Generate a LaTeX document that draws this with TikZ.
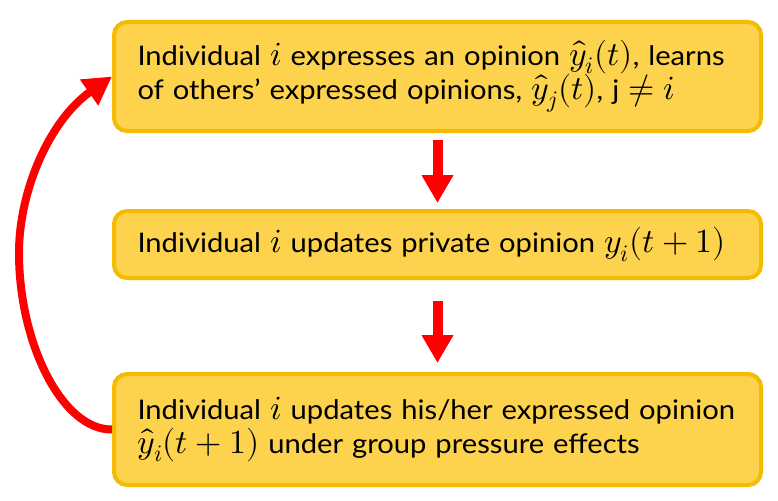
\documentclass[tikz,border=0pt]{standalone}
\usepackage{fontspec}
\usepackage{unicode-math}
\setmainfont{Lato}[FakeStretch=1.08, WordSpace=1.2]
\setmathfont{latinmodern-math.otf}[Scale=1.25]
\usetikzlibrary{arrows.meta}
\definecolor{boxfill}{HTML}{FDD24D}
\definecolor{boxline}{HTML}{F6BB00}
\definecolor{arrred}{HTML}{FF0000}
\tikzset{
  flowbox/.style={draw=boxline, fill=boxfill, line width=4pt, rounded corners=13pt,
    minimum width=647pt, text width=600pt, inner xsep=21pt, align=left,
    font=\fontsize{27}{34}\selectfont},
  downarrow/.style={draw=arrred, line width=10pt, -{Triangle[length=28pt,width=30pt]}},
  looparrow/.style={draw=arrred, line width=8pt, -{Triangle[length=28pt,width=30pt]}}
}
\begin{document}
\begin{tikzpicture}[x=1pt,y=-1pt]
\useasboundingbox (0,0) rectangle (778,500);
\node[flowbox, minimum height=109pt] (b1) at (437.5,76.5)
  {Individual $i$ expresses an opinion $\hat{y}_i(t)$, learns\\
   of others’ expressed opinions, $\hat{y}_j(t)$, j $\neq i$};
\node[flowbox, minimum height=67pt] (b2) at (437.5,244.5)
  {Individual $i$ updates private opinion $y_i(t+1)$};
\node[flowbox, minimum height=111pt] (b3) at (437.5,429.5)
  {Individual $i$ updates his/her expressed opinion\\
   $\hat{y}_i(t+1)$ under group pressure effects};
\draw[downarrow] ([yshift=-7pt]b1.south) -- ([yshift=6pt]b2.north);
\draw[downarrow] ([yshift=-21pt]b2.south) -- ([yshift=9pt]b3.north);
\draw[looparrow] (b3.west) .. controls (62,430) and (19,343) .. (19,253)
  .. controls (19,190) and (50,120) .. (b1.west);
\end{tikzpicture}
\end{document}
